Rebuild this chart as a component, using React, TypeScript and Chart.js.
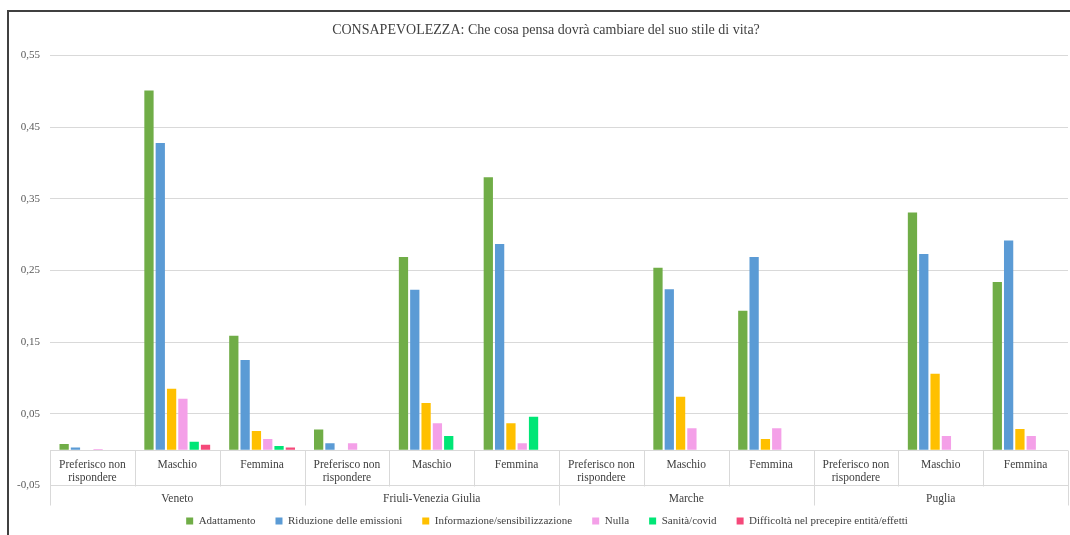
import React, { useEffect, useRef } from 'react';
import { Chart, registerables } from 'chart.js';

Chart.register(...registerables);

const TITLE = 'CONSAPEVOLEZZA: Che cosa pensa dovrà cambiare del suo stile di vita?';

const REGIONS = ['Veneto', 'Friuli-Venezia Giulia', 'Marche', 'Puglia'];
const GENDERS = ['Preferisco non rispondere', 'Maschio', 'Femmina'];
const GENDER_LINES = [['Preferisco non', 'rispondere'], ['Maschio'], ['Femmina']];

const Y_TICKS = [-0.05, 0.05, 0.15, 0.25, 0.35, 0.45, 0.55];
const Y_TICK_LABELS = ['-0,05', '0,05', '0,15', '0,25', '0,35', '0,45', '0,55'];

const SERIES_NAMES = [
  'Adattamento',
  'Riduzione delle emissioni',
  'Informazione/sensibilizzazione',
  'Nulla',
  'Sanità/covid',
  'Difficoltà nel precepire entità/effetti',
];
const SERIES_COLORS = ['#70AD47', '#5B9BD5', '#FFC000', '#F4A0E8', '#00E676', '#F5497A'];

// order: Veneto (PNR, M, F), FVG (PNR, M, F), Marche (PNR, M, F), Puglia (PNR, M, F)
const ADATTAMENTO = [0.008, 0.501, 0.159, 0.028, 0.269, 0.38, null, 0.254, 0.194, null, 0.331, 0.234];
const RIDUZIONE = [0.003, 0.428, 0.125, 0.009, 0.223, 0.287, null, 0.224, 0.269, null, 0.273, 0.292];
const INFORMAZIONE = [null, 0.085, 0.026, null, 0.065, 0.037, null, 0.074, 0.015, null, 0.106, 0.029];
const NULLA = [0.001, 0.071, 0.015, 0.009, 0.037, 0.009, null, 0.03, 0.03, null, 0.019, 0.019];
const SANITA = [null, 0.011, 0.005, null, 0.019, 0.046, null, null, null, null, null, null];
const DIFFICOLTA = [null, 0.007, 0.003, null, null, null, null, null, null, null, null, null];

const SERIES_VALUES = [ADATTAMENTO, RIDUZIONE, INFORMAZIONE, NULLA, SANITA, DIFFICOLTA];

const FONT = '"Liberation Serif", "Times New Roman", serif';

const categoryPlugin = {
  id: 'categoryBoxes',
  beforeDatasetsDraw(chart: any) {
    const { ctx, chartArea, scales } = chart;
    const x = scales.x;
    const y = scales.y;
    const y0 = Math.round(y.getPixelForValue(0)) + 0.5;
    const yIn = Math.round(y.getPixelForValue(-0.05)) + 0.5;
    const yOut = yIn + 19;
    const n = chart.data.labels.length;
    ctx.save();
    ctx.strokeStyle = '#D9D9D9';
    ctx.lineWidth = 1;
    ctx.beginPath();
    ctx.moveTo(chartArea.left, y0);
    ctx.lineTo(chartArea.right, y0);
    ctx.stroke();
    for (let i = 0; i <= n; i++) {
      const bx =
        i === 0
          ? chartArea.left
          : i === n
          ? chartArea.right
          : (x.getPixelForValue(i - 1) + x.getPixelForValue(i)) / 2;
      const px = Math.round(bx) + 0.5;
      const bottom = i % GENDERS.length === 0 ? yOut : yIn;
      ctx.beginPath();
      ctx.moveTo(px, y0);
      ctx.lineTo(px, bottom);
      ctx.stroke();
    }
    ctx.fillStyle = '#404040';
    ctx.font = '11.5px ' + FONT;
    ctx.textAlign = 'center';
    ctx.textBaseline = 'middle';
    for (let i = 0; i < n; i++) {
      const cx = x.getPixelForValue(i);
      const lines = GENDER_LINES[i % GENDERS.length];
      lines.forEach((t, k) => ctx.fillText(t, cx, y0 + 14.5 + k * 13));
    }
    REGIONS.forEach((r, g) => {
      const a = x.getPixelForValue(g * GENDERS.length);
      const b = x.getPixelForValue(g * GENDERS.length + GENDERS.length - 1);
      ctx.fillText(r, (a + b) / 2, yIn + 12);
    });
    ctx.restore();
  },
};

const framePlugin = {
  id: 'frame',
  afterLayout(chart: any) {
    // centre title and legend on the same axis as the original layout
    if (chart.titleBlock) chart.titleBlock.left += 14;
    if (chart.legend) chart.legend.left += 16;
  },
  afterDraw(chart: any) {
    const { ctx, width, height } = chart;
    ctx.save();
    ctx.fillStyle = '#404040';
    ctx.fillRect(7, 10, 2, height - 10);
    ctx.fillRect(7, 10, width - 7, 2);
    ctx.restore();
  },
};

export default function App() {
  const ref = useRef<HTMLCanvasElement>(null);

  useEffect(() => {
    const canvas = ref.current;
    if (!canvas) return;
    const labels = REGIONS.flatMap((r) => GENDERS.map((g) => `${r} - ${g}`));
    const chart = new Chart(canvas, {
      type: 'bar',
      data: {
        labels,
        datasets: SERIES_NAMES.map((name, i) => ({
          label: name,
          data: SERIES_VALUES[i],
          backgroundColor: SERIES_COLORS[i],
          borderWidth: 0,
          categoryPercentage: 0.8,
          barPercentage: 0.82,
        })),
      },
      options: {
        responsive: false,
        maintainAspectRatio: false,
        animation: false,
        layout: { padding: { left: 10, right: 2, top: 0, bottom: -1.5 } },
        plugins: {
          title: {
            display: true,
            text: TITLE,
            color: '#404040',
            font: { family: FONT, size: 14, weight: 'normal' },
            padding: { top: 21.6, bottom: 17.1 },
          },
          legend: {
            position: 'bottom',
            labels: {
              boxWidth: 7,
              boxHeight: 7,
              padding: 20,
              color: '#404040',
              font: { family: FONT, size: 11 },
              generateLabels: (c: any) =>
                (Chart.defaults.plugins.legend.labels as any)
                  .generateLabels(c)
                  .map((l: any) => ({ ...l, lineWidth: 0 })),
            },
          },
          tooltip: { enabled: false },
        },
        scales: {
          x: {
            grid: { display: false },
            border: { display: false },
            ticks: { display: false },
            afterFit: (s: any) => {
              s.height = 10;
            },
          },
          y: {
            min: -0.05,
            max: 0.55,
            afterBuildTicks: (s: any) => {
              s.ticks = Y_TICKS.map((v) => ({ value: v }));
            },
            afterFit: (s: any) => {
              s.width = 40;
            },
            grid: { color: '#D9D9D9', drawTicks: false, lineWidth: 1 },
            border: { display: false },
            ticks: {
              padding: 10,
              color: '#595959',
              font: { family: FONT, size: 11 },
              callback: (v: any) => {
                const idx = Y_TICKS.findIndex((t) => Math.abs(t - Number(v)) < 1e-9);
                return idx >= 0 ? Y_TICK_LABELS[idx] : '';
              },
            },
          },
        },
      } as any,
      plugins: [categoryPlugin, framePlugin],
    });
    return () => chart.destroy();
  }, []);

  return (
    <div style={{ position: 'fixed', left: 0, top: 0, width: 1070, height: 535, background: '#fff' }}>
      <canvas ref={ref} width={1070} height={535} style={{ display: 'block' }} />
    </div>
  );
}
